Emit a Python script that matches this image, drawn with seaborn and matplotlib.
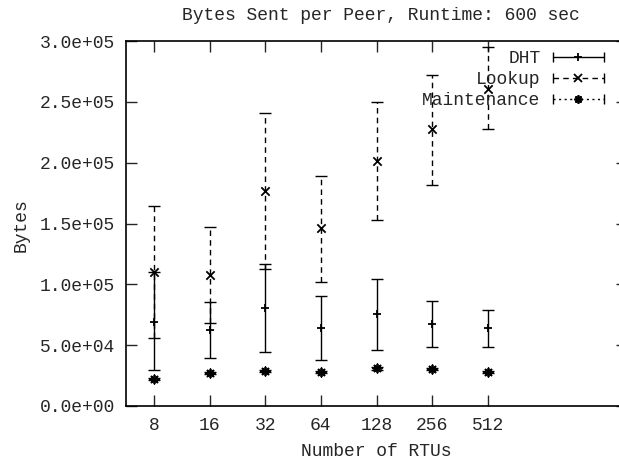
import numpy as np
import pandas as pd
import matplotlib
matplotlib.use("Agg")
import matplotlib.pyplot as plt
from matplotlib.lines import Line2D
from matplotlib.legend_handler import HandlerLine2D
from matplotlib.ticker import FormatStrFormatter
import seaborn as sns

# values
rtus = ["8", "16", "32", "64", "128", "256", "512"]

dht_mean = [69000, 62400, 80300, 63800, 75600, 67400, 63800]
dht_low = [29600, 39200, 44100, 37500, 46300, 48200, 48200]
dht_high = [110000, 85700, 116400, 90100, 104100, 86300, 79200]

lookup_mean = [110000, 107700, 176700, 146000, 201600, 227300, 260500]
lookup_low = [56000, 68000, 112600, 101900, 152800, 181600, 227300]
lookup_high = [164300, 147300, 240500, 189300, 250000, 272200, 295000]

maint_mean = [22000, 26900, 28800, 28200, 31000, 30400, 28200]
maint_low = [21000, 26000, 27900, 27300, 30000, 29500, 27300]
maint_high = [23000, 27800, 29700, 29100, 32000, 31300, 29100]

sns.set_style("ticks")
plt.rcParams['font.family'] = ['Liberation Mono', 'DejaVu Sans Mono']
fs = 13

fig = plt.figure(figsize=(6.19, 4.66), dpi=100)
ax = fig.add_axes([126 / 619, 60 / 466, 501 / 619, 365 / 466])

pos = np.arange(len(rtus))
series = [
    ("DHT", dht_mean, dht_low, dht_high, "-", "+"),
    ("Lookup", lookup_mean, lookup_low, lookup_high, (0, (4, 3)), "x"),
    ("Maintenance", maint_mean, maint_low, maint_high, (0, (1.5, 2.5)), (8, 2, 0)),
]

handles = []
hmap = {}
for name, mean, low, high, ls, mk in series:
    mean = np.array(mean)
    yerr = [mean - np.array(low), np.array(high) - mean]
    cont = ax.errorbar(pos, mean, yerr=yerr, fmt="none", ecolor="black",
                       elinewidth=1, capsize=4, capthick=1)
    cont[2][0].set_linestyle(ls)
    df = pd.DataFrame({"pos": pos, "val": mean})
    sns.scatterplot(data=df, x="pos", y="val", marker=mk, color="black",
                    s=36, linewidth=1.3, ax=ax, zorder=3)
    capl = Line2D([], [], color="black", lw=1, ls=ls, marker="|", markersize=7)
    cen = Line2D([], [], ls="none", color="black", marker=mk, markersize=6, mew=1.3)
    hmap[capl] = HandlerLine2D(numpoints=2)
    hmap[cen] = HandlerLine2D(numpoints=1)
    handles.append((capl, cen))

ax.set_xlim(-0.5, 8.5)
ax.set_ylim(0, 300000)
ax.set_xticks(pos)
ax.set_xticklabels(rtus)
ax.set_yticks(np.arange(0, 300001, 50000))
ax.yaxis.set_major_formatter(FormatStrFormatter("%.1e"))
ax.tick_params(direction="in", top=True, right=True, length=8, width=1,
               labelsize=fs, pad=8)
for s in ax.spines.values():
    s.set_linewidth(1.2)
    s.set_color("black")
ax.set_xlabel("")
ax.set_ylabel("")

leg = ax.legend(handles, ["DHT", "Lookup", "Maintenance"], handler_map=hmap,
                loc="upper right", bbox_to_anchor=(609 / 619, 1 - 50 / 466),
                bbox_transform=fig.transFigure, frameon=False, markerfirst=False,
                fontsize=fs, handlelength=3.4, handletextpad=0.4,
                labelspacing=0.22, borderpad=0, borderaxespad=0)

fig.text(381 / 619, 1 - 15 / 466, "Bytes Sent per Peer, Runtime: 600 sec",
         ha="center", va="center", fontsize=fs)
fig.text(376 / 619, 1 - 452 / 466, "Number of RTUs", ha="center", va="center",
         fontsize=fs)
fig.text(21 / 619, 1 - 225 / 466, "Bytes", rotation=90, ha="center",
         va="center", fontsize=fs)

fig.savefig("out.png", dpi=100)
